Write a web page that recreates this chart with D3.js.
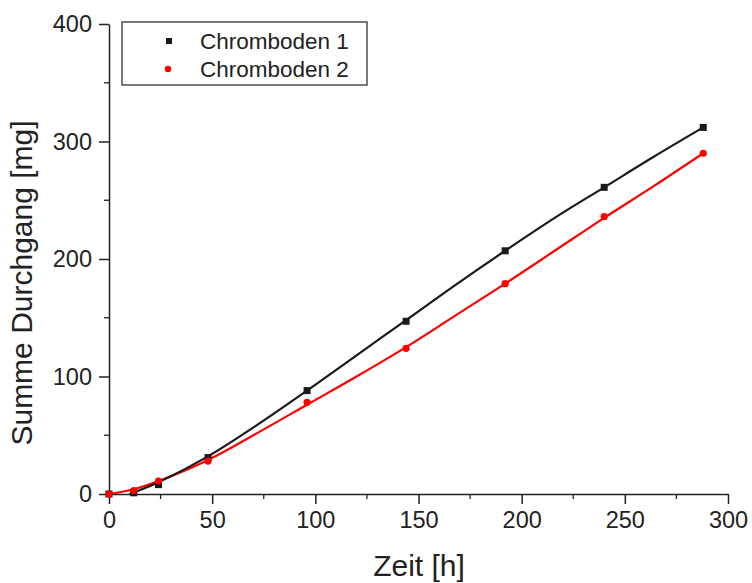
<!DOCTYPE html>
<html>
<head>
<meta charset="utf-8">
<script src="https://cdn.jsdelivr.net/npm/d3@7"></script>
<style>
  body { margin: 0; background: #fff; }
  svg { font-family: "Liberation Sans", Arial, sans-serif; }
</style>
</head>
<body>
<svg></svg>
<script>
// measured points
var hours = [0, 12, 24, 48, 96, 144, 192, 240, 288];
var boden1 = [0, 1, 8, 31, 88, 147, 207, 261, 312];
var boden2 = [0, 3, 11, 28, 78, 124, 179, 236, 290];

// fitted curves
var fitHours1 = [10, 24, 48, 72, 96, 120, 144, 168, 192, 216, 240, 264, 288];
var fit1 = [0, 10, 32, 59, 88, 118, 148, 178, 207, 235, 261, 287, 312];
var fitHours2 = [0, 12, 24, 48, 72, 96, 120, 144, 168, 192, 216, 240, 264, 288];
var fit2 = [0, 4, 11, 29, 52, 76, 100, 125, 152, 179, 207, 235, 262, 290];

var xTicks = [0, 50, 100, 150, 200, 250, 300];
var yTicks = [0, 100, 200, 300, 400];
var seriesNames = ['Chromboden 1', 'Chromboden 2'];

var canvasWidth = 752, canvasHeight = 583;
var margin = { top: 24, right: 24, bottom: 89, left: 109 };
var width = canvasWidth - margin.left - margin.right;
var height = canvasHeight - margin.top - margin.bottom;

var svg = d3.select('svg')
    .attr('width', canvasWidth)
    .attr('height', canvasHeight);
var g = svg.append('g')
    .attr('transform', 'translate(' + margin.left + ',' + margin.top + ')');

var xScale = d3.scaleLinear().domain([0, 300]).range([0, 619]);
var yScale = d3.scaleLinear().domain([0, 400]).range([height, 0]);

// minor ticks
var xMinor = d3.range(25, 300, 50);
var yMinor = d3.range(50, 400, 100);
g.selectAll('.xminor').data(xMinor).enter().append('line')
    .attr('x1', function (d) { return xScale(d); })
    .attr('x2', function (d) { return xScale(d); })
    .attr('y1', height).attr('y2', height + 5)
    .attr('stroke', '#222').attr('stroke-width', 1.3);
g.selectAll('.yminor').data(yMinor).enter().append('line')
    .attr('y1', function (d) { return yScale(d); })
    .attr('y2', function (d) { return yScale(d); })
    .attr('x1', 0).attr('x2', -5)
    .attr('stroke', '#222').attr('stroke-width', 1.3);

var xAxis = g.append('g')
    .attr('transform', 'translate(0,' + height + ')')
    .call(d3.axisBottom(xScale).tickValues(xTicks).tickSize(10).tickSizeOuter(0).tickPadding(7));
var yAxis = g.append('g')
    .call(d3.axisLeft(yScale).tickValues(yTicks).tickSize(10).tickSizeOuter(0).tickPadding(7));

[xAxis, yAxis].forEach(function (a) {
    a.select('.domain').attr('stroke', '#222').attr('stroke-width', 1.5);
    a.selectAll('.tick line').attr('stroke', '#222').attr('stroke-width', 1.5);
    a.selectAll('.tick text').attr('fill', '#222')
        .style('font-size', '23.5px')
        .style('font-family', '"Liberation Sans", Arial, sans-serif');
});

// fitted lines
var line = d3.line()
    .x(function (d) { return xScale(d[0]); })
    .y(function (d) { return yScale(d[1]); })
    .curve(d3.curveCatmullRom);

g.append('path')
    .datum(fitHours2.map(function (h, i) { return [h, fit2[i]]; }))
    .attr('d', line).attr('fill', 'none')
    .attr('stroke', '#ff0000').attr('stroke-width', 2.2);
g.append('path')
    .datum(fitHours1.map(function (h, i) { return [h, fit1[i]]; }))
    .attr('d', line).attr('fill', 'none')
    .attr('stroke', '#1a1a1a').attr('stroke-width', 2.2);

// points
g.selectAll('.sq').data(hours).enter().append('rect')
    .attr('x', function (d) { return xScale(d) - 3.5; })
    .attr('y', function (d, i) { return yScale(boden1[i]) - 3.5; })
    .attr('width', 7).attr('height', 7)
    .attr('fill', '#1a1a1a');
g.selectAll('.dot').data(hours).enter().append('circle')
    .attr('cx', function (d) { return xScale(d); })
    .attr('cy', function (d, i) { return yScale(boden2[i]); })
    .attr('r', 3.6)
    .attr('fill', '#ff0000');

// axis titles
svg.append('text')
    .attr('x', 419).attr('y', 576)
    .attr('text-anchor', 'middle')
    .attr('fill', '#222')
    .style('font-size', '30px')
    .text('Zeit [h]');
svg.append('text')
    .attr('transform', 'translate(32,' + 283 + ') rotate(-90)')
    .attr('text-anchor', 'middle')
    .attr('fill', '#222')
    .style('font-size', '30px')
    .text('Summe Durchgang [mg]');

// legend
var legend = svg.append('g').attr('transform', 'translate(122,22)');
legend.append('rect')
    .attr('width', 245).attr('height', 63)
    .attr('fill', '#fff').attr('stroke', '#222').attr('stroke-width', 1.2);
legend.append('rect')
    .attr('x', 44).attr('y', 16).attr('width', 6).attr('height', 6)
    .attr('fill', '#1a1a1a');
legend.append('circle')
    .attr('cx', 46).attr('cy', 47).attr('r', 3.2)
    .attr('fill', '#ff0000');
legend.selectAll('.lt').data(seriesNames).enter().append('text')
    .attr('x', 78)
    .attr('y', function (d, i) { return 27 + i * 28; })
    .attr('fill', '#222')
    .style('font-size', '22.5px')
    .text(function (d) { return d; });
</script>
</body>
</html>
